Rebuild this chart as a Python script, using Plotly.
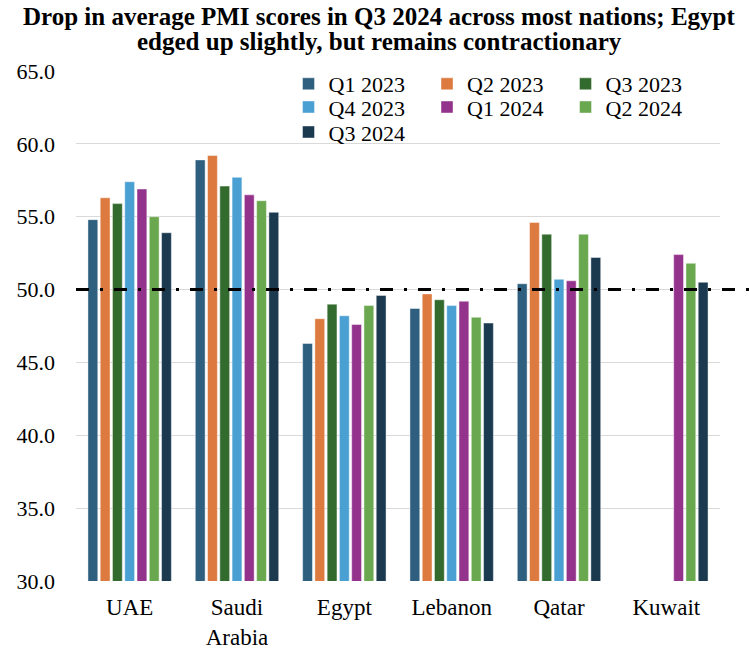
import plotly.graph_objects as go

countries = ["UAE", "Saudi<br>Arabia", "Egypt", "Lebanon", "Qatar", "Kuwait"]
series_names = ["Q1 2023", "Q2 2023", "Q3 2023", "Q4 2023", "Q1 2024", "Q2 2024", "Q3 2024"]

q1_2023 = [54.8, 58.9, 46.3, 48.7, 50.4, None]
q2_2023 = [56.3, 59.2, 48.0, 49.7, 54.6, None]
q3_2023 = [55.9, 57.1, 49.0, 49.3, 53.8, None]
q4_2023 = [57.4, 57.7, 48.2, 48.9, 50.7, None]
q1_2024 = [56.9, 56.5, 47.6, 49.2, 50.6, 52.4]
q2_2024 = [55.0, 56.1, 48.9, 48.1, 53.8, 51.8]
q3_2024 = [53.9, 55.3, 49.6, 47.7, 52.2, 50.5]

threshold = 50.0
y_ticks = [30, 35, 40, 45, 50, 55, 60, 65]
title_lines = ["Drop in average PMI scores in Q3 2024 across most nations; Egypt",
               "edged up slightly, but remains contractionary"]

colors = ["#2E5F7F", "#DD7A3F", "#336B2E", "#4A9FD3", "#93338B", "#6AA84F", "#1B3A50"]
legend_ids = ["legend", "legend", "legend", "legend2", "legend2", "legend2", "legend3"]
all_series = [q1_2023, q2_2023, q3_2023, q4_2023, q1_2024, q2_2024, q3_2024]

FONT = "Liberation Serif"

fig = go.Figure()
for name, vals, col, lg in zip(series_names, all_series, colors, legend_ids):
    fig.add_trace(go.Bar(
        x=countries, y=vals, name=name, legend=lg,
        marker=dict(color=col, line=dict(color="rgba(255,255,255,0.55)", width=0.8)),
    ))

fig.add_shape(type="line", xref="paper", yref="y", x0=0, x1=1.05, y0=threshold, y1=threshold,
              line=dict(color="black", width=3, dash="13px,11px,3px,11px"), layer="above")

for txt, yy in zip(title_lines, [1.1059, 1.0588]):
    fig.add_annotation(text="<b>" + txt + "</b>", xref="paper", yref="paper",
                       x=0.471, y=yy, xanchor="center", yanchor="middle", showarrow=False,
                       font=dict(family=FONT, size=25, color="black"))

legend_common = dict(orientation="h", xanchor="left", yanchor="middle", x=0.33,
                     bgcolor="rgba(0,0,0,0)", entrywidth=93.5, entrywidthmode="pixels",
                     font=dict(family=FONT, size=22, color="black"), traceorder="normal")

fig.update_layout(
    width=749, height=650,
    margin=dict(l=76, r=29, t=71, b=69),
    paper_bgcolor="white", plot_bgcolor="white",
    barmode="group", bargap=0.2, bargroupgap=0.2,
    font=dict(family=FONT, size=22, color="black"),
    legend=dict(**legend_common, y=0.9745),
    legend2=dict(**legend_common, y=0.929),
    legend3=dict(**legend_common, y=0.880),
    xaxis=dict(showgrid=False, showline=False, ticks="", ticklabelstandoff=10, automargin=False,
               tickfont=dict(family=FONT, size=23, color="black")),
    yaxis=dict(range=[30, 65], tickvals=y_ticks, tickformat=".1f", showgrid=True,
               gridcolor="#D9D9D9", gridwidth=1.2, zeroline=False, showline=False,
               ticks="", ticklabelstandoff=20, automargin=False,
               tickfont=dict(family=FONT, size=22, color="black")),
)

fig.write_html("out.html", config={"displayModeBar": False},
               post_script="document.body.style.margin='0';document.body.style.overflow='hidden';")
